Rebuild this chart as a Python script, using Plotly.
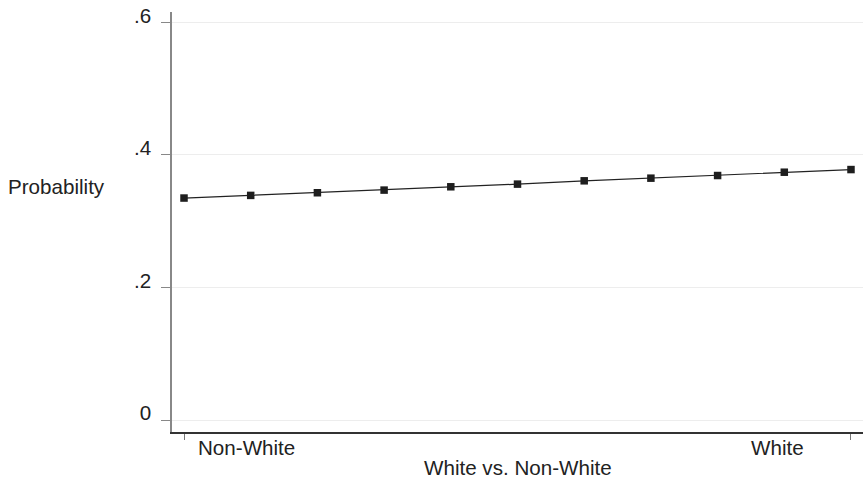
import plotly.graph_objects as go

# Predicted probability across the White vs. Non-White contrast
x_vals = [0.0, 0.1, 0.2, 0.3, 0.4, 0.5, 0.6, 0.7, 0.8, 0.9, 1.0]
prob = [0.335, 0.339, 0.343, 0.347, 0.352, 0.356, 0.361, 0.365, 0.369, 0.374, 0.378]

y_ticks = [0, 0.2, 0.4, 0.6]
y_tick_text = ["0", ".2", ".4", ".6"]
x_label_pos = [0.093, 0.89]
x_label_text = ["Non-White", "White"]

FONT = "Liberation Sans, Arial, Helvetica, sans-serif"
FS = 20.6

fig = go.Figure()
fig.add_trace(go.Scatter(
    x=x_vals, y=prob, mode="lines+markers",
    line=dict(color="#222222", width=1.2),
    marker=dict(symbol="square", size=7.5, color="#1e1e1e"),
    showlegend=False, hoverinfo="x+y",
))

annotations = []
for pos, txt in zip(x_label_pos, x_label_text):
    annotations.append(dict(
        x=pos, y=0, xref="x", yref="paper", text=txt, showarrow=False,
        xanchor="center", yanchor="middle", yshift=-15,
        font=dict(family=FONT, size=FS, color="#222222"),
    ))
annotations.append(dict(
    x=0.5, y=0, xref="paper", yref="paper", text="White vs. Non-White",
    showarrow=False, xanchor="center", yanchor="middle", yshift=-35,
    font=dict(family=FONT, size=FS, color="#222222"),
))
annotations.append(dict(
    x=-116 / 691, y=(432 - 186) / 420, xref="paper", yref="paper",
    text="Probability", showarrow=False, xanchor="center", yanchor="middle",
    font=dict(family=FONT, size=FS, color="#222222"),
))

fig.update_layout(
    width=865, height=482,
    margin=dict(l=172, r=2, t=12, b=50),
    paper_bgcolor="white", plot_bgcolor="white",
    font=dict(family=FONT, size=FS, color="#222222"),
    annotations=annotations,
    xaxis=dict(
        range=[-0.018, 1.018],
        tickvals=[0, 1], ticktext=["", ""],
        ticks="outside", ticklen=6, tickcolor="#777777", tickwidth=1,
        showgrid=False, zeroline=False,
        showline=True, linecolor="#333333", linewidth=1.5,
    ),
    yaxis=dict(
        range=[-0.0181, 0.6158],
        tickvals=y_ticks, ticktext=y_tick_text,
        ticks="outside", ticklen=9, tickcolor="#888888", tickwidth=1,
        ticklabelshift=-7, ticklabelstandoff=6,
        showgrid=True, gridcolor="#ededed", gridwidth=1,
        zeroline=False,
        showline=True, linecolor="#888888", linewidth=1.5,
        tickfont=dict(family=FONT, size=FS, color="#222222"),
    ),
)

fig.write_html("out.html")
